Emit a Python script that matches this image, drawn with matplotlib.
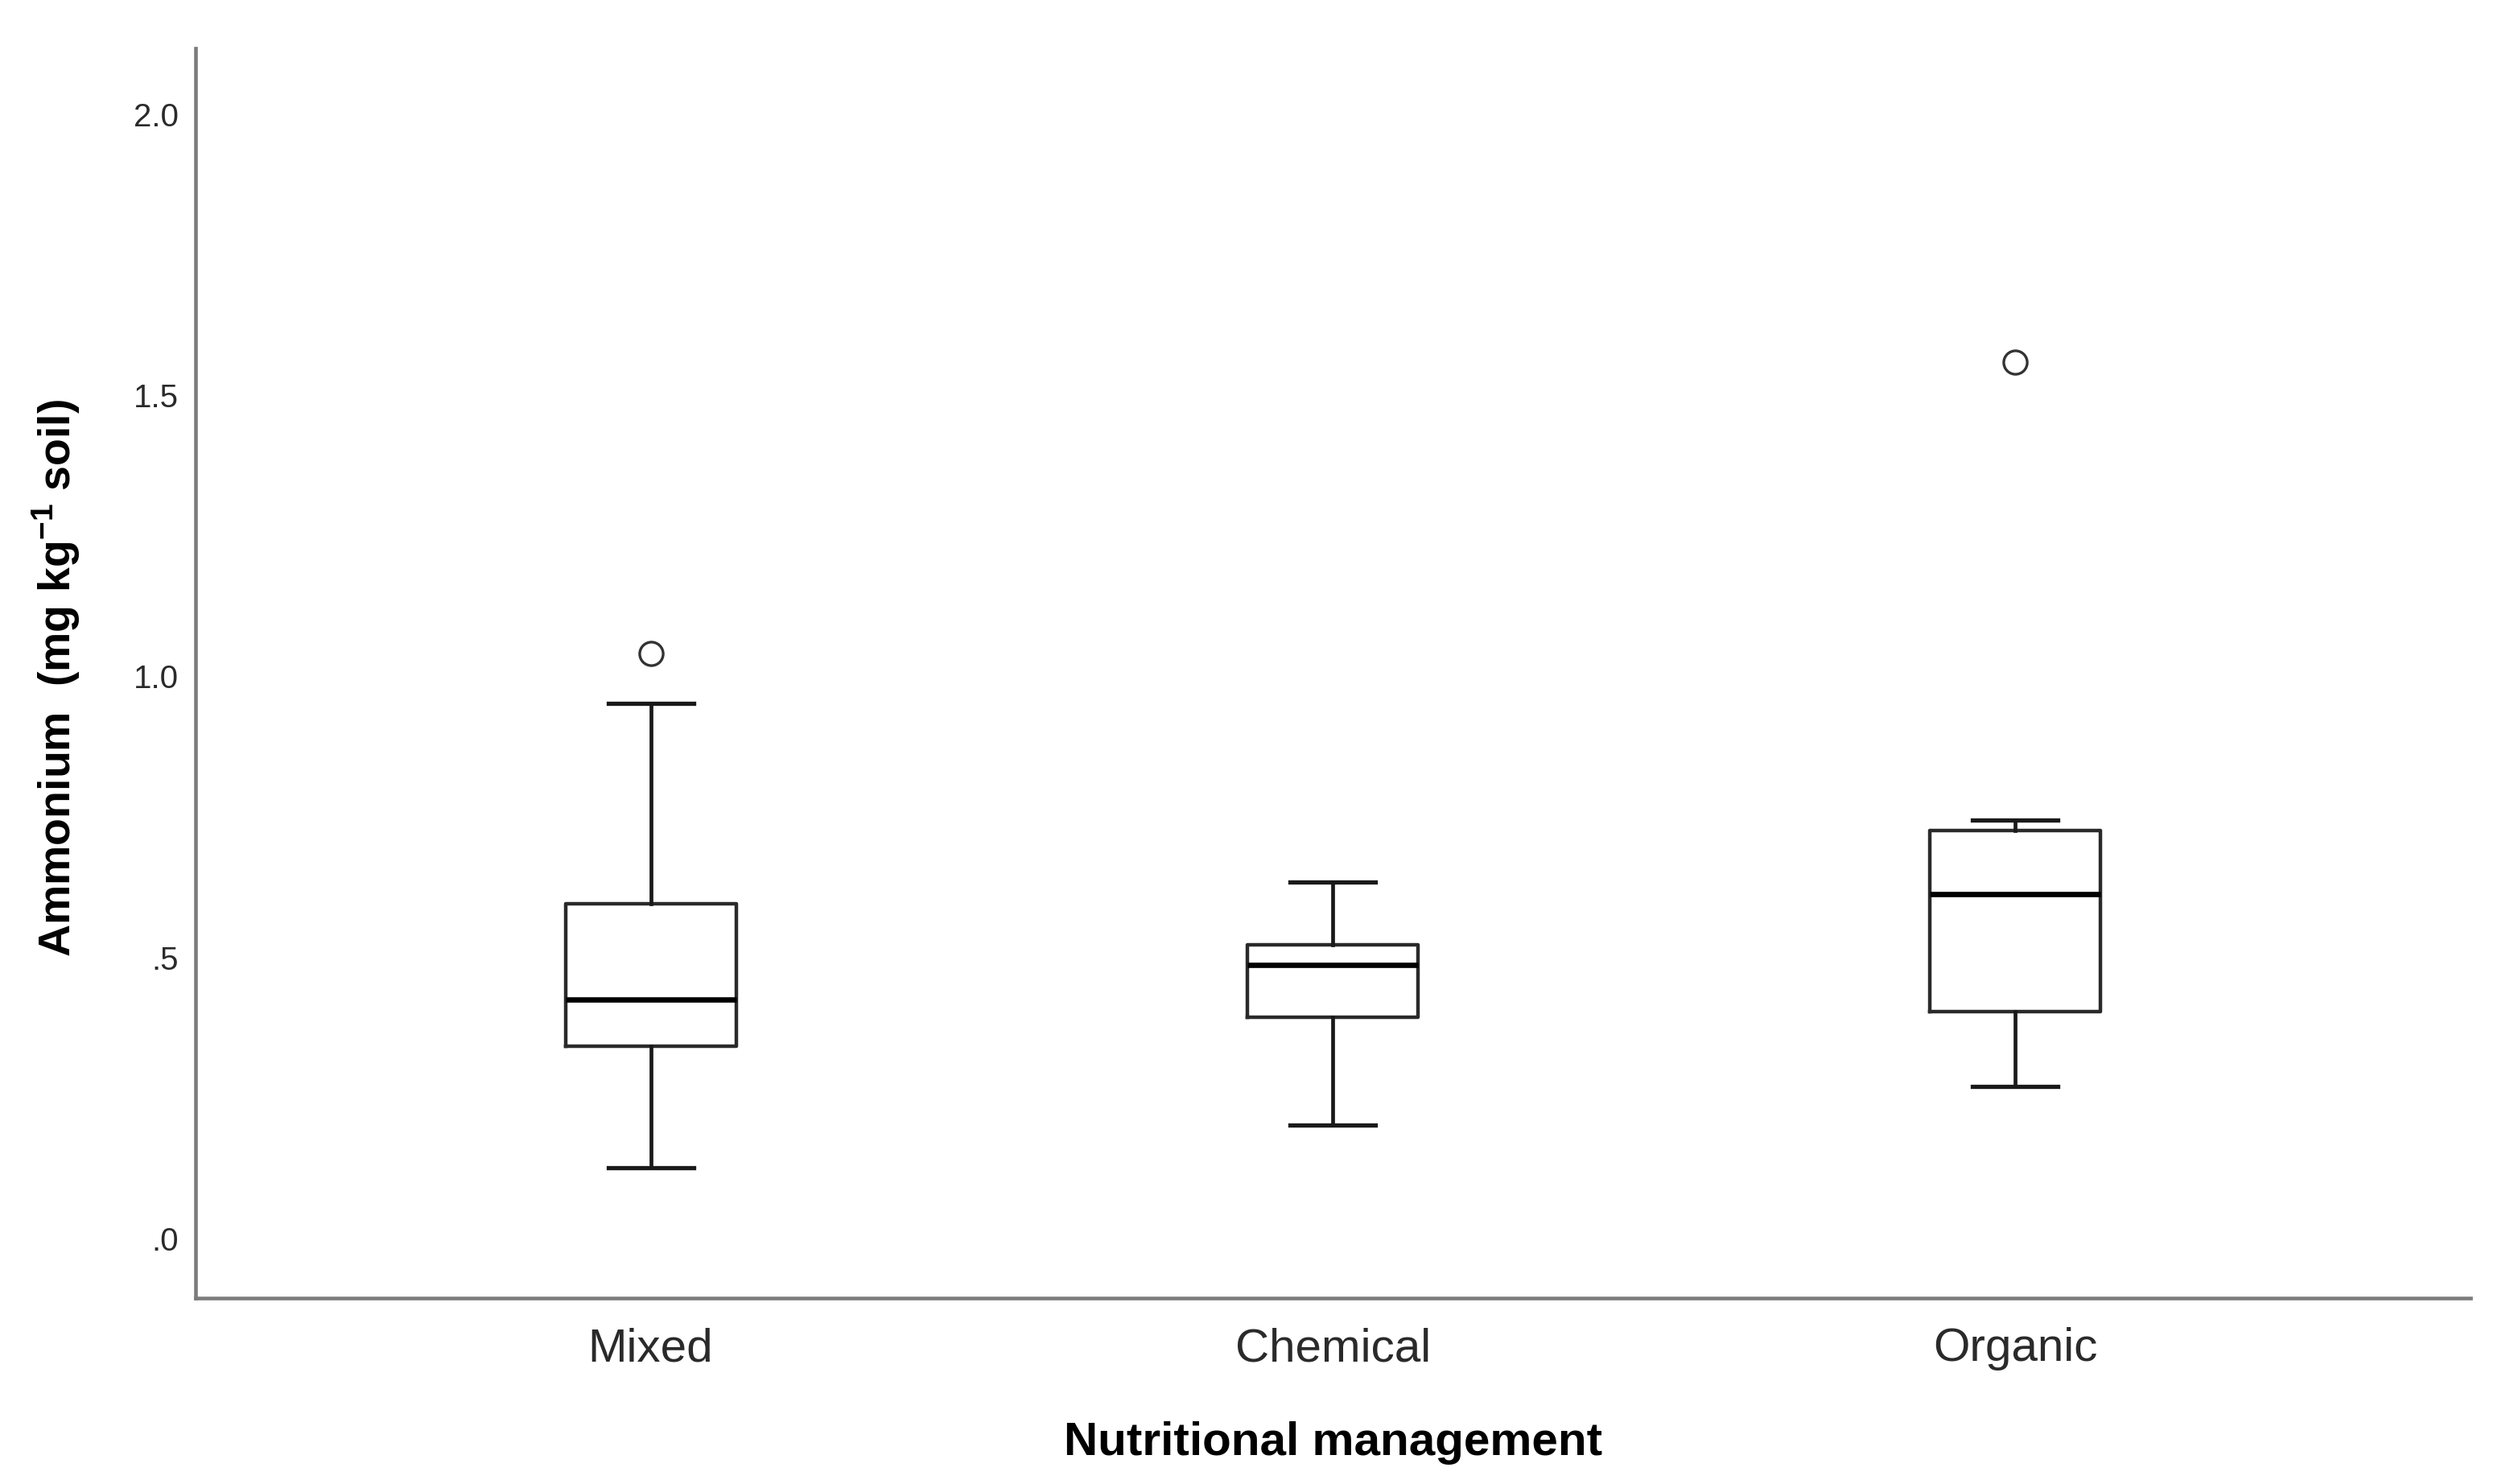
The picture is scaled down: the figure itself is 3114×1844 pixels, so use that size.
import matplotlib
matplotlib.use("Agg")
import matplotlib.pyplot as plt

categories = ["Mixed", "Chemical", "Organic"]
q1 = [0.342, 0.393, 0.403]
median = [0.425, 0.487, 0.613]
q3 = [0.596, 0.522, 0.725]
whisker_low = [0.126, 0.201, 0.271]
whisker_high = [0.952, 0.634, 0.744]
outliers = [[1.041], [], [1.558]]

yticks = [0.0, 0.5, 1.0, 1.5, 2.0]
ytick_labels = [".0", ".5", "1.0", "1.5", "2.0"]

plt.rcParams['font.family'] = ['Liberation Sans', 'DejaVu Sans']
plt.rcParams['mathtext.fontset'] = 'custom'
plt.rcParams['mathtext.rm'] = 'Liberation Sans'
plt.rcParams['mathtext.bf'] = 'Liberation Sans:bold'

fig = plt.figure(figsize=(31.14, 18.44), dpi=100)
ax = fig.add_axes([0.078, 0.1253, 0.9079, 0.8422])

stats = []
for i, c in enumerate(categories):
    stats.append(dict(label=c, q1=q1[i], med=median[i], q3=q3[i],
                      whislo=whisker_low[i], whishi=whisker_high[i],
                      fliers=outliers[i]))

positions = list(range(len(categories)))
ax.bxp(stats, positions=positions, widths=0.25, showfliers=True,
       boxprops=dict(color='#2a2a2a', linewidth=3.2),
       medianprops=dict(color='black', linewidth=4.8),
       whiskerprops=dict(color='#1a1a1a', linewidth=3.4),
       capprops=dict(color='#1a1a1a', linewidth=3.8),
       capwidths=0.125,
       flierprops=dict(marker='o', markersize=21, markerfacecolor='white',
                       markeredgecolor='#333333', markeredgewidth=2.4))

ax.set_xlim(-0.667, 2.667)
ax.set_ylim(-0.106, 2.117)
ax.set_yticks(yticks)
ax.set_yticklabels(ytick_labels)
ax.set_xticks(positions)
ax.set_xticklabels(categories)

for side in ['top', 'right']:
    ax.spines[side].set_visible(False)
for side in ['left', 'bottom']:
    ax.spines[side].set_color('#7c7c7c')
    ax.spines[side].set_linewidth(3.3)

ax.tick_params(axis='y', length=0, pad=15, labelsize=29, labelcolor='#2a2a2a')
ax.tick_params(axis='x', length=0, pad=26, labelsize=42, labelcolor='#2a2a2a')

ax.set_xlabel("Nutritional management", fontsize=42, fontweight='bold')
ax.xaxis.set_label_coords(0.5, -0.0985)
ax.set_ylabel(r"Ammonium  (mg kg$^{\mathbf{-1}}$ soil)", fontsize=40, fontweight='bold')
ax.yaxis.set_label_coords(-0.050, 0.496)

fig.savefig("out.png", dpi=100, facecolor='white')
